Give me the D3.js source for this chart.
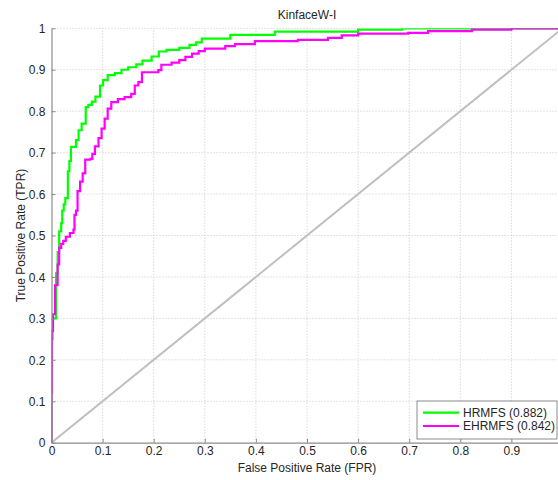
<!DOCTYPE html>
<html>
<head>
<meta charset="utf-8">
<script src="https://cdn.jsdelivr.net/npm/d3@7"></script>
<style>
body { margin: 0; background: #fff; }
text { font-family: "Liberation Sans", Arial, sans-serif; font-size: 12px; fill: #262626; }
</style>
</head>
<body>
<script>
// ROC points, HRMFS
var hrmfsFpr = [0, 0.002, 0.009, 0.012, 0.015, 0.019, 0.021, 0.024, 0.027, 0.032, 0.035, 0.038, 0.048, 0.053, 0.059, 0.067, 0.072, 0.079, 0.086, 0.095, 0.101, 0.110, 0.124, 0.137, 0.150, 0.166, 0.178, 0.196, 0.210, 0.225, 0.250, 0.270, 0.283, 0.294, 0.350, 0.437, 0.600, 0.686, 1.000];
var hrmfsTpr = [0, 0.25, 0.30, 0.41, 0.46, 0.51, 0.53, 0.56, 0.575, 0.59, 0.655, 0.68, 0.714, 0.73, 0.754, 0.77, 0.81, 0.815, 0.823, 0.835, 0.862, 0.875, 0.887, 0.892, 0.900, 0.906, 0.913, 0.922, 0.932, 0.944, 0.948, 0.953, 0.960, 0.966, 0.975, 0.984, 0.992, 0.997, 1.000];

// ROC points, EHRMFS
var ehrmfsFpr = [0, 0.001, 0.003, 0.007, 0.012, 0.015, 0.019, 0.023, 0.028, 0.036, 0.043, 0.045, 0.048, 0.051, 0.056, 0.061, 0.066, 0.076, 0.080, 0.085, 0.092, 0.098, 0.104, 0.110, 0.117, 0.130, 0.143, 0.156, 0.163, 0.170, 0.177, 0.209, 0.215, 0.235, 0.250, 0.262, 0.275, 0.288, 0.300, 0.340, 0.359, 0.398, 0.482, 0.541, 0.568, 0.600, 0.698, 0.737, 0.823, 0.900, 1.000];
var ehrmfsTpr = [0, 0.12, 0.27, 0.31, 0.38, 0.43, 0.47, 0.48, 0.487, 0.497, 0.506, 0.514, 0.55, 0.56, 0.607, 0.63, 0.65, 0.683, 0.685, 0.697, 0.715, 0.735, 0.758, 0.782, 0.806, 0.822, 0.829, 0.834, 0.842, 0.862, 0.870, 0.894, 0.899, 0.912, 0.917, 0.923, 0.931, 0.939, 0.945, 0.951, 0.957, 0.962, 0.969, 0.972, 0.977, 0.983, 0.987, 0.989, 0.993, 0.997, 1.000];

var seriesNames = ["HRMFS", "EHRMFS"];
var aucValues = ["0.882", "0.842"];
var seriesColors = ["#00ff00", "#ff00ff"];

var xTicks = [0, 0.1, 0.2, 0.3, 0.4, 0.5, 0.6, 0.7, 0.8, 0.9, 1];
var yTicks = [0, 0.1, 0.2, 0.3, 0.4, 0.5, 0.6, 0.7, 0.8, 0.9, 1];

var plotLeft = 51.5, plotRight = 562.5, plotTop = 28.3, plotBottom = 442.7;

var svg = d3.select("body").append("svg")
	.attr("width", 558)
	.attr("height", 480);

var x = d3.scaleLinear().domain([0, 1]).range([plotLeft, plotRight]);
var y = d3.scaleLinear().domain([0, 1]).range([plotBottom, plotTop]);

svg.append("clipPath").attr("id", "plotclip")
	.append("rect")
		.attr("x", plotLeft).attr("y", plotTop)
		.attr("width", plotRight - plotLeft).attr("height", plotBottom - plotTop);

// dotted grid
svg.selectAll("line.vgrid")
	.data(xTicks.slice(1))
	.enter().append("line")
		.attr("class", "vgrid")
		.attr("x1", function(d){ return x(d); })
		.attr("x2", function(d){ return x(d); })
		.attr("y1", plotBottom).attr("y2", plotTop)
		.attr("stroke", "#c8c8c8")
		.attr("stroke-dasharray", "1,2");

svg.selectAll("line.hgrid")
	.data(yTicks.slice(1))
	.enter().append("line")
		.attr("class", "hgrid")
		.attr("y1", function(d){ return y(d); })
		.attr("y2", function(d){ return y(d); })
		.attr("x1", plotLeft).attr("x2", plotRight)
		.attr("stroke", "#c8c8c8")
		.attr("stroke-dasharray", "1,2");

var plot = svg.append("g").attr("clip-path", "url(#plotclip)");

// chance line
plot.append("line")
	.attr("x1", x(0)).attr("y1", y(0))
	.attr("x2", x(1)).attr("y2", y(1))
	.attr("stroke", "#c0c0c0")
	.attr("stroke-width", 2);

var line = d3.line()
	.x(function(d){ return x(d[0]); })
	.y(function(d){ return y(d[1]); })
	.curve(d3.curveStepBefore);

var curves = [d3.zip(hrmfsFpr, hrmfsTpr), d3.zip(ehrmfsFpr, ehrmfsTpr)];

plot.selectAll("path.roc")
	.data(curves)
	.enter().append("path")
		.attr("class", "roc")
		.attr("d", line)
		.attr("fill", "none")
		.attr("stroke", function(d, i){ return seriesColors[i]; })
		.attr("stroke-width", 2.2);

// axes
var xAxis = d3.axisBottom(x).tickValues(xTicks.slice(0, 10)).tickFormat(d3.format("")).tickSizeInner(-4).tickSizeOuter(0).tickPadding(4);
var yAxis = d3.axisLeft(y).tickValues(yTicks).tickFormat(d3.format("")).tickSizeInner(-4).tickSizeOuter(0).tickPadding(6);

var gx = svg.append("g").attr("transform", "translate(0," + plotBottom + ")").call(xAxis);
var gy = svg.append("g").attr("transform", "translate(" + plotLeft + ",0)").call(yAxis);

[gx, gy].forEach(function(g){
	g.select(".domain").attr("stroke", "#8c8c8c").attr("stroke-width", 1.2);
	g.selectAll(".tick line").attr("stroke", "#8c8c8c");
	g.selectAll(".tick text").attr("font-size", "12px").attr("font-family", null);
});
gy.selectAll(".tick text").attr("dy", "0.35em");

svg.append("text")
	.attr("x", (plotLeft + plotRight) / 2).attr("y", 18.5)
	.attr("text-anchor", "middle")
	.text("KinfaceW-I");

svg.append("text")
	.attr("x", (plotLeft + plotRight) / 2).attr("y", 472)
	.attr("text-anchor", "middle")
	.text("False Positive Rate (FPR)");

svg.append("text")
	.attr("transform", "translate(25," + ((plotTop + plotBottom) / 2) + ") rotate(-90)")
	.attr("text-anchor", "middle")
	.text("True Positive Rate (TPR)");

// legend
var legend = svg.append("g").attr("transform", "translate(417,401)");
legend.append("rect")
	.attr("width", 140).attr("height", 38)
	.attr("fill", "#fff")
	.attr("stroke", "#8c8c8c");

var items = legend.selectAll("g.item")
	.data(seriesNames)
	.enter().append("g")
		.attr("class", "item")
		.attr("transform", function(d, i){ return "translate(0," + (11.7 + i * 13.3) + ")"; });

items.append("line")
	.attr("x1", 6).attr("x2", 42)
	.attr("stroke", function(d, i){ return seriesColors[i]; })
	.attr("stroke-width", 2.2);

items.append("text")
	.attr("x", 46).attr("dy", "0.35em")
	.text(function(d, i){ return d + " (" + aucValues[i] + ")"; });
</script>
</body>
</html>
